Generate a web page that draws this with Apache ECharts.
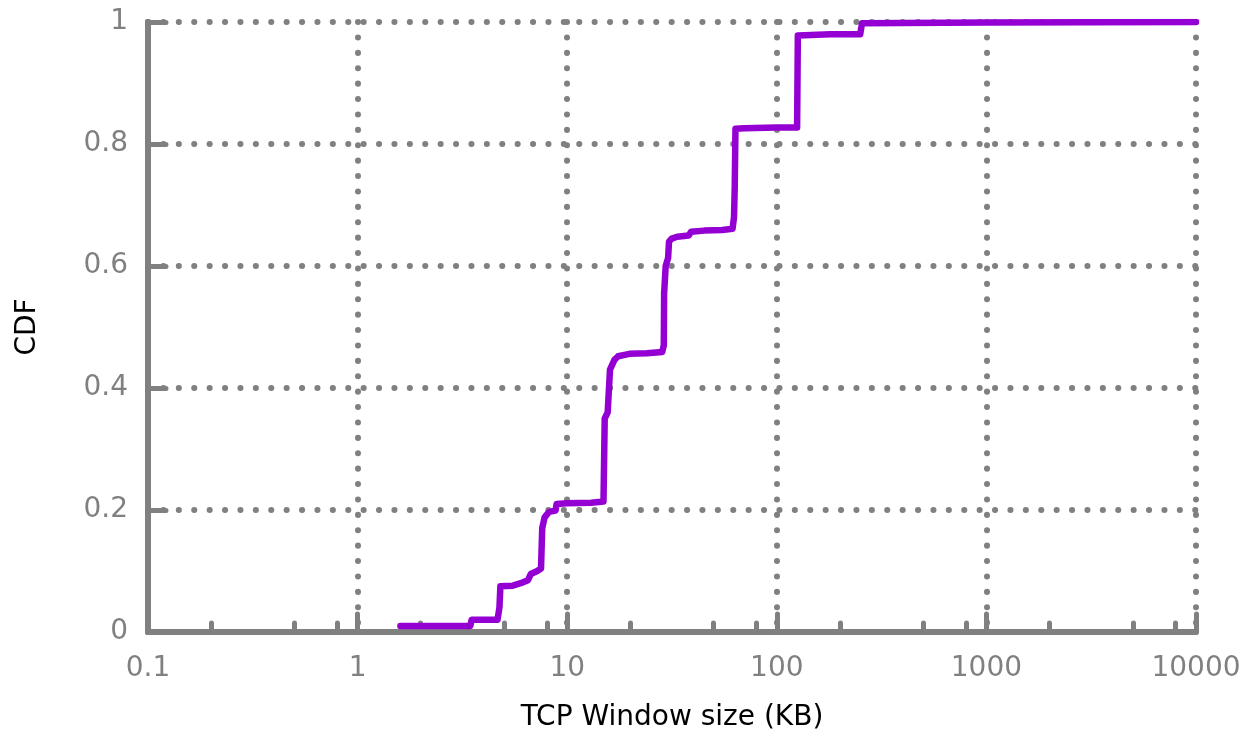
<!DOCTYPE html>
<html>
<head>
<meta charset="utf-8">
<title>TCP Window size CDF</title>
<script src="https://cdn.jsdelivr.net/npm/echarts@6/dist/echarts.min.js"></script>
<style>
  html, body { margin: 0; padding: 0; background: #fff; }
  #chart { width: 1255px; height: 732px; }
</style>
</head>
<body>
<div id="chart"></div>
<script>
// Window sizes (KB) along the empirical CDF, in order
const windowKB = [1.6, 3.45, 3.5, 4.65, 4.75, 4.8, 5.5, 6.0, 6.5, 6.7, 7.2, 7.5, 7.6, 7.8, 8.2, 8.8, 8.9,
  10, 13, 14.9, 15.1, 15.6, 15.9, 16.0, 16.8, 17.5, 19.8, 24, 28.4, 28.9, 29.0, 29.5, 30.3, 30.6,
  31.5, 33.5, 38, 39, 45, 55, 61.5, 62.5, 63.0, 63.5, 70, 100, 125, 126, 180, 250, 255, 1000, 10000];
// Cumulative fraction at each window size
const cdfValues = [0.010, 0.010, 0.020, 0.020, 0.040, 0.075, 0.076, 0.080, 0.085, 0.095, 0.100, 0.104, 0.170, 0.188, 0.197, 0.199, 0.210,
  0.211, 0.212, 0.214, 0.350, 0.360, 0.362, 0.430, 0.446, 0.452, 0.456, 0.457, 0.459, 0.470, 0.555, 0.600, 0.613, 0.640,
  0.645, 0.648, 0.650, 0.656, 0.658, 0.659, 0.661, 0.680, 0.730, 0.825, 0.826, 0.827, 0.827, 0.978, 0.980, 0.980, 0.998, 0.999, 1.0];
// Minor ticks at 2, 5 and 8 in every decade
const minorTickValues = [0.2, 0.5, 0.8, 2, 5, 8, 20, 50, 80, 200, 500, 800, 2000, 5000, 8000];
const yTicks = [0, 0.2, 0.4, 0.6, 0.8, 1];

const GRAY = '#808080';
const FONT = 'DejaVu Sans';
const dotted = { color: GRAY, width: 6, type: [0.1, 15.3], cap: 'round' };
const fmt = v => String(+Number(v).toPrecision(6));

const chart = echarts.init(document.getElementById('chart'), null, { renderer: 'canvas' });
chart.setOption({
  animation: false,
  grid: { left: 148, right: 59, top: 22, bottom: 100, containLabel: false, outerBoundsMode: 'none' },
  xAxis: [{
    type: 'log', logBase: 10, min: 0.1, max: 10000,
    name: 'TCP Window size (KB)', nameLocation: 'middle', nameGap: 72,
    nameTextStyle: { color: '#000', fontFamily: FONT, fontSize: 28 },
    axisLine: { show: true, onZero: false, lineStyle: { color: GRAY, width: 6 } },
    axisTick: { show: true, inside: true, length: 18, lineStyle: { color: GRAY, width: 5, cap: 'round' } },
    axisLabel: { color: GRAY, fontFamily: FONT, fontSize: 28, margin: 23, formatter: fmt },
    splitLine: { show: true, lineStyle: dotted },
    minorTick: { show: false }
  }, {
    type: 'log', logBase: 10, min: 0.1, max: 10000, position: 'bottom', gridIndex: 0,
    axisLine: { show: false },
    axisTick: { show: true, inside: true, length: 9, customValues: minorTickValues,
      lineStyle: { color: GRAY, width: 5, cap: 'round' } },
    axisLabel: { show: false },
    splitLine: { show: false }
  }],
  yAxis: {
    type: 'value', min: 0, max: 1, interval: 0.2,
    name: 'CDF', nameLocation: 'middle', nameGap: 106, nameRotate: 90,
    nameTextStyle: { color: '#000', fontFamily: FONT, fontSize: 28 },
    axisLine: { show: true, onZero: false, lineStyle: { color: GRAY, width: 6 } },
    axisTick: { show: true, inside: true, length: 18, lineStyle: { color: GRAY, width: 5, cap: 'round' } },
    axisLabel: { color: GRAY, fontFamily: FONT, fontSize: 28, margin: 20, customValues: yTicks, formatter: fmt },
    splitLine: { show: true, lineStyle: dotted }
  },
  series: [{
    type: 'line',
    xAxisIndex: 0,
    data: windowKB.map((x, i) => [x, cdfValues[i]]),
    showSymbol: false,
    symbol: 'none',
    lineStyle: { color: '#9400D3', width: 6.5, cap: 'round', join: 'round' },
    z: 5
  }]
});
</script>
</body>
</html>
